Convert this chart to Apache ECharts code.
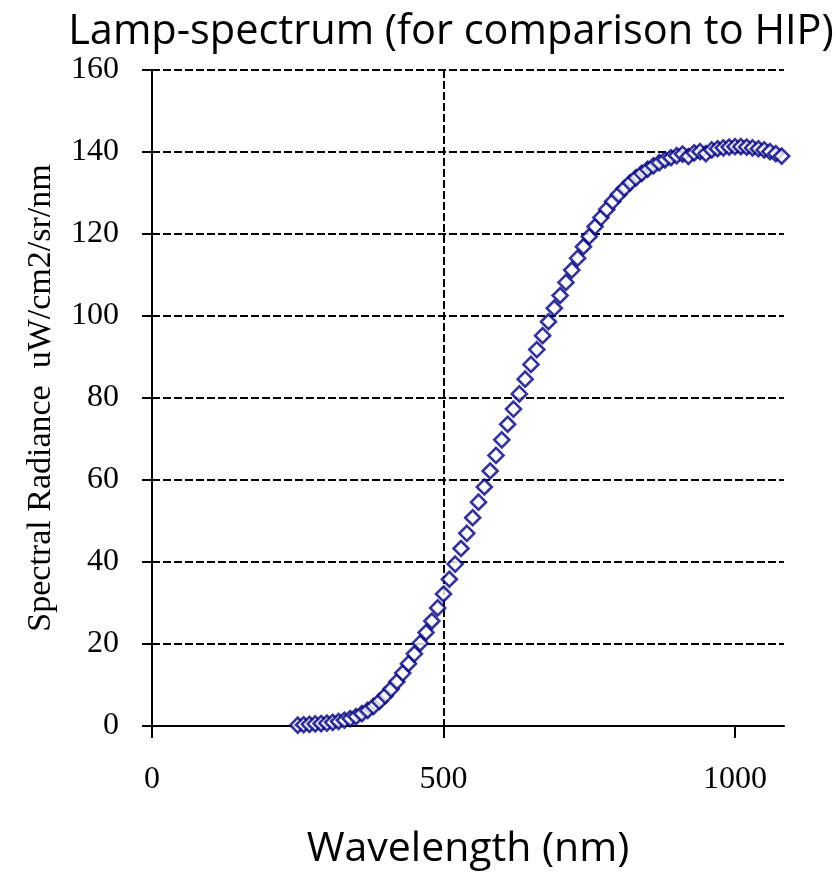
<!DOCTYPE html>
<html><head><meta charset="utf-8">
<script src="https://cdn.jsdelivr.net/npm/echarts@6/dist/echarts.min.js"></script>
<style>html,body{margin:0;padding:0;background:#fff}#c{width:836px;height:875px}</style>
</head><body><div id="c"></div>
<script>
const wavelengths = [250,260,270,280,290,300,310,320,330,340,350,360,370,380,390,400,410,420,430,440,450,460,470,480,490,500,510,520,530,540,550,560,570,580,590,600,610,620,630,640,650,660,670,680,690,700,710,720,730,740,750,760,770,780,790,800,810,820,830,840,850,860,870,880,890,900,910,920,930,940,950,960,970,980,990,1000,1010,1020,1030,1040,1050,1060,1070,1080];
const radiance = [0.2,0.3,0.4,0.5,0.6,0.7,0.9,1.1,1.4,1.8,2.3,3.0,3.8,4.8,6.0,7.4,9.0,10.8,12.9,15.2,17.6,20.2,22.8,25.6,28.8,32.2,35.8,39.5,43.3,47.0,50.8,54.6,58.3,62.2,66.0,69.8,73.6,77.3,81.0,84.6,88.2,91.8,95.2,98.6,101.9,105.0,108.2,111.2,114.1,116.9,119.4,121.8,124.0,126.0,127.9,129.6,131.1,132.5,133.7,134.8,135.8,136.6,137.4,138.1,138.6,139.1,139.5,138.9,139.8,140.1,139.6,140.5,140.8,141.0,141.2,141.3,141.3,141.2,141.0,140.8,140.5,140.1,139.6,139.0];
const xTicks = [0,500,1000];
const yTicks = [0,20,40,60,80,100,120,140,160];
const titleText = 'Lamp-spectrum (for comparison to HIP)';
const xName = 'Wavelength (nm)';
const yName = 'Spectral Radiance  uW/cm2/sr/nm';

const chart = echarts.init(document.getElementById('c'), null, {renderer:'canvas'});
const serif = 'Liberation Serif';
const sans = 'Open Sans';
chart.setOption({
  animation:false,
  backgroundColor:'#fff',
  title:{text:titleText,left:446,top:6,textAlign:'center',
    textStyle:{fontFamily:sans,fontWeight:'normal',fontSize:41.5,color:'#000'}},
  grid:{left:152,right:52,top:70,bottom:149,containLabel:false},
  xAxis:{type:'value',min:0,max:1084,interval:500,
    name:xName,nameLocation:'middle',nameGap:103,
    nameTextStyle:{fontFamily:sans,fontSize:41,color:'#000'},
    axisLine:{show:true,onZero:false,lineStyle:{color:'#000',width:2}},
    axisTick:{show:true,inside:false,length:12,customValues:xTicks,lineStyle:{color:'#000',width:2}},
    axisLabel:{customValues:xTicks,margin:38,fontFamily:serif,fontSize:32,color:'#000',formatter:v=>String(v)},
    splitLine:{show:true,showMinLine:false,showMaxLine:false,lineStyle:{color:'#000',type:[8,3],width:2}}
  },
  yAxis:{type:'value',min:0,max:160,interval:20,
    name:yName,nameLocation:'middle',nameGap:94,
    nameTextStyle:{fontFamily:serif,fontSize:34,color:'#000'},
    axisLine:{show:true,lineStyle:{color:'#000',width:2}},
    axisTick:{show:true,inside:false,length:10,customValues:yTicks,lineStyle:{color:'#000',width:2}},
    axisLabel:{customValues:yTicks,margin:33,fontFamily:serif,fontSize:32,color:'#000',formatter:v=>String(v)},
    splitLine:{show:true,showMinLine:false,lineStyle:{color:['#000','#000','#000','#000','#000','#000','#000','#000','#888'],type:[8,3],width:2}}
  },
  series:[{type:'scatter',data:wavelengths.map((w,i)=>[w,radiance[i]]),
    symbol:'diamond',symbolSize:[15,15],
    itemStyle:{color:'#fff',borderColor:'#000080',borderWidth:2.6}
  }]
});
</script></body></html>
